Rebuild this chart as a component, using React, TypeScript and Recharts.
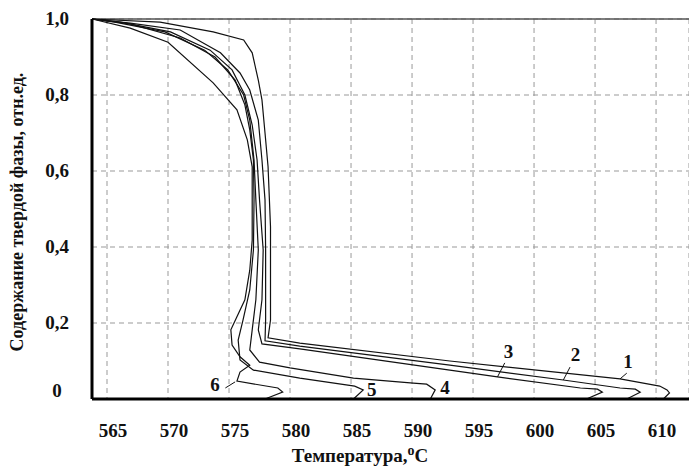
import React from "react";
import { LineChart, Line, XAxis, YAxis, CartesianGrid, ReferenceLine, ReferenceDot } from "recharts";

// [temperature, solid fraction], from liquid side to fully solid
const curve1: [number, number][] = [
  [610.6, 0], [611.1, 0.016], [610.9, 0.024], [610.3, 0.034], [607.05, 0.053], [593.1, 0.1],
  [580.8, 0.147], [578.2, 0.161], [578.4, 0.208], [578.4, 0.313], [578.4, 0.453], [578.2, 0.611],
  [577.95, 0.7], [577.7, 0.787], [577.4, 0.839], [576.9, 0.911], [576.2, 0.945], [573.7, 0.966],
  [569.35, 0.992], [563.77, 1],
];
const curve2: [number, number][] = [
  [607.6, 0], [608.7, 0.018], [608.3, 0.026], [607.05, 0.029], [602.4, 0.05], [593.1, 0.089],
  [580.8, 0.139], [577.95, 0.153], [578.0, 0.208], [578.0, 0.392], [577.95, 0.524], [577.7, 0.629],
  [577.4, 0.734], [576.7, 0.813], [575.9, 0.858], [574.3, 0.911], [571.0, 0.971], [566.9, 0.989],
  [563.77, 1],
];
const curve3: [number, number][] = [
  [604.3, 0], [605.6, 0.018], [605.2, 0.026], [603.8, 0.029], [597.0, 0.058], [593.1, 0.076],
  [580.8, 0.132], [577.7, 0.145], [577.4, 0.182], [577.7, 0.261], [577.8, 0.392], [577.5, 0.524],
  [577.3, 0.629], [576.9, 0.721], [576.3, 0.8], [575.25, 0.866], [573.45, 0.918], [570.2, 0.966],
  [566.1, 0.992], [563.77, 1],
];
const curve4: [number, number][] = [
  [591.5, 0], [591.9, 0.024], [591.2, 0.039], [590.1, 0.042], [585.2, 0.055], [580.0, 0.082],
  [577.5, 0.097], [576.7, 0.129], [576.9, 0.182], [577.2, 0.261], [577.4, 0.392], [577.2, 0.524],
  [577.05, 0.629], [576.7, 0.734], [576.2, 0.8], [574.9, 0.866], [573.0, 0.918], [569.75, 0.966],
  [565.65, 0.992], [563.77, 1],
];
const curve5: [number, number][] = [
  [585.2, 0], [586.0, 0.024], [585.3, 0.034], [580.8, 0.055], [577.0, 0.076], [575.9, 0.103],
  [575.75, 0.155], [576.15, 0.208], [576.7, 0.287], [577.0, 0.392], [577.05, 0.524], [577.0, 0.629],
  [576.7, 0.708], [576.3, 0.774], [575.5, 0.839], [573.85, 0.9], [571.0, 0.95], [566.9, 0.987],
  [563.77, 1],
];
const curve6: [number, number][] = [
  [577.95, 0], [579.4, 0.018], [579.0, 0.029], [575.65, 0.047], [575.9, 0.071], [576.7, 0.089],
  [575.9, 0.111], [575.25, 0.142], [575.15, 0.182], [575.6, 0.213], [576.3, 0.261], [576.7, 0.339],
  [576.9, 0.418], [576.9, 0.524], [576.9, 0.611], [576.5, 0.682], [575.65, 0.761], [573.7, 0.832],
  [570.0, 0.939], [566.9, 0.976], [563.77, 1],
];

const curves = [curve1, curve2, curve3, curve4, curve5, curve6];

const xTicks = [565, 570, 575, 580, 585, 590, 595, 600, 605, 610];
const yTicks = [0, 0.2, 0.4, 0.6, 0.8, 1.0];

// curve numbers: text position and leader line (from, to) in data units
const curveLabels = [
  { name: "1", t: 607.7, f: 0.097, from: [607.6, 0.068], to: [607.05, 0.053] },
  { name: "2", t: 603.4, f: 0.116, from: [602.95, 0.084], to: [602.4, 0.05] },
  { name: "3", t: 597.9, f: 0.124, from: [597.6, 0.095], to: [597.0, 0.058] },
  { name: "4", t: 592.7, f: 0.029, from: null, to: null },
  { name: "5", t: 586.7, f: 0.024, from: null, to: null },
  { name: "6", t: 573.85, f: 0.037, from: [574.7, 0.029], to: [575.5, 0.045] },
];

const serif = "'Liberation Serif', 'Times New Roman', serif";

const XTick = ({ x, y, payload }: any) => (
  <text x={x + 6} y={y + 30} textAnchor="middle" fontFamily={serif} fontWeight="bold" fontSize={19} fill="#111">
    {payload.value}
  </text>
);

const YTick = ({ y, payload }: any) => {
  const v = payload.value as number;
  const txt = v === 0 ? "0" : v.toFixed(1).replace(".", ",");
  return (
    <text x={57} y={y + 6 - (v === 0 ? 8 : 0)} textAnchor="middle" fontFamily={serif} fontWeight="bold" fontSize={19} fill="#111">
      {txt}
    </text>
  );
};

const NumLabel = ({ viewBox, value }: any) => (
  <text x={viewBox.cx ?? viewBox.x} y={(viewBox.cy ?? viewBox.y) + 6} textAnchor="middle" fontFamily={serif} fontWeight="bold" fontSize={19} fill="#111">
    {value}
  </text>
);

export default function App() {
  return (
    <div style={{ position: "absolute", left: 0, top: 0, background: "#fff" }}>
      <LineChart width={689} height={470} margin={{ top: 19, right: 0, left: 0, bottom: 0 }}>
        <CartesianGrid stroke="#999" strokeDasharray="5 4" strokeWidth={1} />
        <XAxis
          dataKey="t"
          type="number"
          domain={[563.77, 612.7]}
          ticks={xTicks}
          allowDataOverflow
          height={71}
          tickLine={false}
          axisLine={{ stroke: "#000", strokeWidth: 3 }}
          tick={<XTick />}
          interval={0}
          label={{
            content: () => (
              <text x={360} y={462} textAnchor="middle" fontFamily={serif} fontWeight="bold" fontSize={19} fill="#111">
                Температура,<tspan dy={-7} fontSize={14}>o</tspan><tspan dy={7}>C</tspan>
              </text>
            ),
          }}
        />
        <YAxis
          dataKey="f"
          type="number"
          domain={[0, 1]}
          ticks={yTicks}
          width={92}
          tickLine={false}
          axisLine={{ stroke: "#000", strokeWidth: 3 }}
          tick={<YTick />}
          interval={0}
          label={{
            content: () => (
              <text x={23} y={212} transform="rotate(-90 23 212)" textAnchor="middle" fontFamily={serif} fontWeight="bold" fontSize={18} fill="#111">
                Содержание твердой фазы, отн.ед.
              </text>
            ),
          }}
        />
        <ReferenceLine y={1} stroke="#555" strokeWidth={1.5} />
        {curves.map((c, i) => (
          <Line
            key={i}
            data={c.map(([t, f]) => ({ t, f }))}
            dataKey="f"
            type="linear"
            stroke="#111"
            strokeWidth={1.2}
            dot={false}
            activeDot={false}
            isAnimationActive={false}
          />
        ))}
        {curveLabels.map((l) =>
          l.from && l.to ? (
            <ReferenceLine
              key={"p" + l.name}
              segment={[{ x: l.from[0], y: l.from[1] }, { x: l.to[0], y: l.to[1] }]}
              stroke="#111"
              strokeWidth={1}
            />
          ) : null
        )}
        {curveLabels.map((l) => (
          <ReferenceDot key={"l" + l.name} x={l.t} y={l.f} r={0} stroke="none" fill="none" label={<NumLabel value={l.name} />} />
        ))}
      </LineChart>
    </div>
  );
}
